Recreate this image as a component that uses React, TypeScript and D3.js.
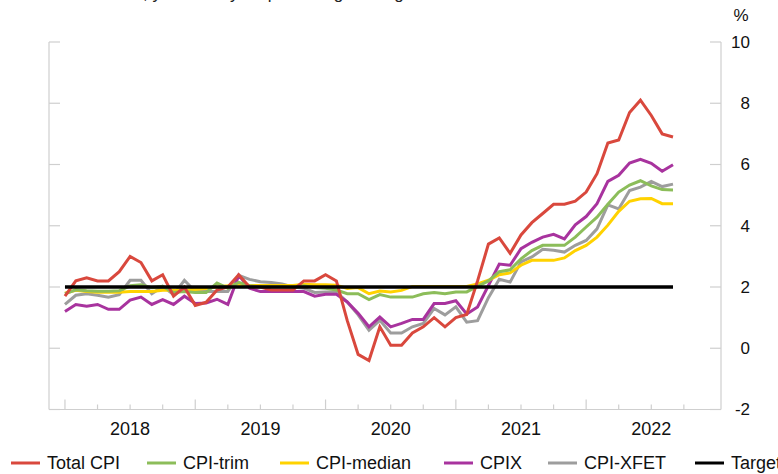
import React from "react";
import * as d3 from "d3";

// Monthly data, Jan 2018 – Sep 2022
const startYear = 2018;
const totalCPI = [
  1.7, 2.2, 2.3, 2.2, 2.2, 2.5, 3.0, 2.8, 2.2, 2.4, 1.7, 2.0,
  1.4, 1.5, 1.9, 2.0, 2.4, 2.0, 2.0, 1.9, 1.9, 1.9, 2.2, 2.2,
  2.4, 2.2, 0.9, -0.2, -0.4, 0.7, 0.1, 0.1, 0.5, 0.7, 1.0, 0.7,
  1.0, 1.1, 2.2, 3.4, 3.6, 3.1, 3.7, 4.1, 4.4, 4.7, 4.7, 4.8,
  5.1, 5.7, 6.7, 6.8, 7.7, 8.1, 7.6, 7.0, 6.9,
];
const cpiTrim = [
  1.78, 1.91, 1.88, 1.86, 1.86, 1.88, 2.04, 2.07, 1.98, 2.02, 1.82, 1.85,
  1.82, 1.82, 2.13, 1.96, 2.15, 2.04, 2.0, 2.0, 2.0, 1.98, 2.04, 1.98,
  1.96, 1.9, 1.78, 1.78, 1.59, 1.75, 1.67, 1.67, 1.67, 1.78, 1.82, 1.78,
  1.84, 1.84, 2.02, 2.2, 2.5, 2.56, 2.92, 3.19, 3.36, 3.36, 3.36, 3.63,
  3.96, 4.28, 4.7, 5.1, 5.33, 5.47, 5.3, 5.18, 5.17,
];
const cpiMedian = [
  1.8, 1.89, 1.85, 1.83, 1.83, 1.83, 1.85, 1.85, 1.85, 1.89, 1.89, 1.89,
  1.92, 1.95, 2.0, 2.04, 2.1, 2.05, 2.05, 2.05, 2.05, 2.05, 2.09, 2.07,
  2.07, 2.06, 1.95, 1.98, 1.78, 1.87, 1.84, 1.89, 2.02, 2.02, 2.02, 2.02,
  2.02, 2.02, 2.1, 2.22, 2.4, 2.46, 2.71, 2.87, 2.87, 2.87, 2.95, 3.19,
  3.36, 3.63, 4.02, 4.47, 4.8, 4.88, 4.89, 4.72, 4.72,
];
const cpix = [
  1.2, 1.43, 1.37, 1.43, 1.27, 1.27, 1.57, 1.67, 1.43, 1.59, 1.43, 1.7,
  1.46, 1.48, 1.6, 1.43, 2.38, 1.96, 1.85, 1.85, 1.85, 1.85, 1.85, 1.7,
  1.76, 1.76, 1.51, 1.14, 0.7, 1.02, 0.7, 0.81, 0.94, 0.94, 1.46, 1.46,
  1.55, 1.12, 1.35, 2.05, 2.75, 2.71, 3.25, 3.46, 3.63, 3.72, 3.57, 4.03,
  4.3, 4.72, 5.45, 5.65, 6.05, 6.17, 6.04, 5.78, 5.99,
];
const cpiXfet = [
  1.43, 1.73, 1.78, 1.73, 1.67, 1.75, 2.22, 2.22, 1.78, 2.02, 1.75, 2.22,
  1.85, 1.85, 1.85, 1.85, 2.38, 2.25, 2.17, 2.15, 2.1, 2.0, 1.96, 1.82,
  1.84, 1.84, 1.51, 1.09, 0.59, 0.91, 0.5, 0.5, 0.7, 0.81, 1.3, 1.09,
  1.35, 0.85, 0.9, 1.65, 2.25, 2.16, 2.82, 2.98, 3.23, 3.2, 3.14, 3.36,
  3.52, 3.9, 4.68, 4.55, 5.15, 5.26, 5.45, 5.28, 5.36,
];
const targetValue = 2;

const yearLabels = ["2018", "2019", "2020", "2021", "2022"];
const yTicks = [-2, 0, 2, 4, 6, 8, 10];

const seriesNames = ["Total CPI", "CPI-trim", "CPI-median", "CPIX", "CPI-XFET", "Target"];
const seriesColors = ["#d9483d", "#8cbd5a", "#ffd200", "#a8339e", "#9d9d9d", "#000000"];

const FONT = "'Liberation Sans', Arial, Helvetica, sans-serif";

export default function App() {
  const W = 778;
  const H = 474;
  const x = d3.scaleLinear().domain([-1.47, 60.42]).range([49, 721]);
  const y = d3.scaleLinear().domain([-2, 10]).range([409.5, 42]);

  const line = d3
    .line<number>()
    .x((_, i) => x(i))
    .y((d) => y(d));

  const dataSeries = [totalCPI, cpiTrim, cpiMedian, cpix, cpiXfet];
  const drawOrder = [4, 3, 2, 1, 0];
  const n = totalCPI.length;

  const majorTicks = yearLabels.map((_, k) => k * 12);
  const minorTicks = d3.range(0, 60, 3).filter((m) => m % 12 !== 0);

  const axisColor = "#cfcfcf";

  const legendLineX = [11, 147, 280, 444, 548, 695];
  const legendY = 463;

  return (
    <svg
      width={W}
      height={H}
      style={{ position: "absolute", left: 0, top: 0, background: "#fff" }}
      fontFamily={FONT}
    >
      <rect x={0} y={0} width={W} height={H} fill="#fff" />
      {/* cut-off subtitle */}
      <text x={143} y={-1} fontSize={17} fill="#222">
        , year-over-year percentage change
      </text>

      {/* axes frame */}
      <line x1={49} x2={49} y1={y(10)} y2={y(-2)} stroke={axisColor} strokeWidth={1.2} />
      <line x1={721} x2={721} y1={y(10)} y2={y(-2)} stroke={axisColor} strokeWidth={1.2} />
      <line x1={49} x2={721} y1={y(-2)} y2={y(-2)} stroke={axisColor} strokeWidth={1.2} />

      {yTicks.map((t) => (
        <g key={"yt" + t}>
          <line x1={49} x2={60} y1={y(t)} y2={y(t)} stroke={axisColor} strokeWidth={1.2} />
          <line x1={710} x2={721} y1={y(t)} y2={y(t)} stroke={axisColor} strokeWidth={1.2} />
          <text
            x={750}
            y={y(t)}
            dy="0.35em"
            textAnchor="end"
            fontSize={17}
            fill="#111"
          >
            {t}
          </text>
        </g>
      ))}
      <text x={741} y={21} textAnchor="middle" fontSize={17} fill="#111">
        %
      </text>

      {majorTicks.map((m) => (
        <line key={"mj" + m} x1={x(m)} x2={x(m)} y1={y(-2) - 10} y2={y(-2)} stroke={axisColor} strokeWidth={1.2} />
      ))}
      {minorTicks.map((m) => (
        <line key={"mn" + m} x1={x(m)} x2={x(m)} y1={y(-2) - 5} y2={y(-2)} stroke={axisColor} strokeWidth={1.2} />
      ))}
      {yearLabels.map((lab, k) => (
        <text key={lab} x={x(k * 12 + 6)} y={435} textAnchor="middle" fontSize={18} fill="#111">
          {lab}
        </text>
      ))}

      {/* data lines */}
      {drawOrder.map((si) => (
        <path
          key={seriesNames[si]}
          d={line(dataSeries[si]) || ""}
          fill="none"
          stroke={seriesColors[si]}
          strokeWidth={3}
          strokeLinejoin="miter"
        />
      ))}
      <line
        x1={x(0)}
        x2={x(n - 1)}
        y1={y(targetValue)}
        y2={y(targetValue)}
        stroke="#000"
        strokeWidth={3.5}
      />

      {/* legend */}
      {seriesNames.map((name, i) => (
        <g key={"lg" + name}>
          <line
            x1={legendLineX[i]}
            x2={legendLineX[i] + 29}
            y1={legendY}
            y2={legendY}
            stroke={seriesColors[i]}
            strokeWidth={3}
          />
          <text x={legendLineX[i] + 36} y={legendY} dy="0.35em" fontSize={18} fill="#111">
            {name}
          </text>
        </g>
      ))}
    </svg>
  );
}
